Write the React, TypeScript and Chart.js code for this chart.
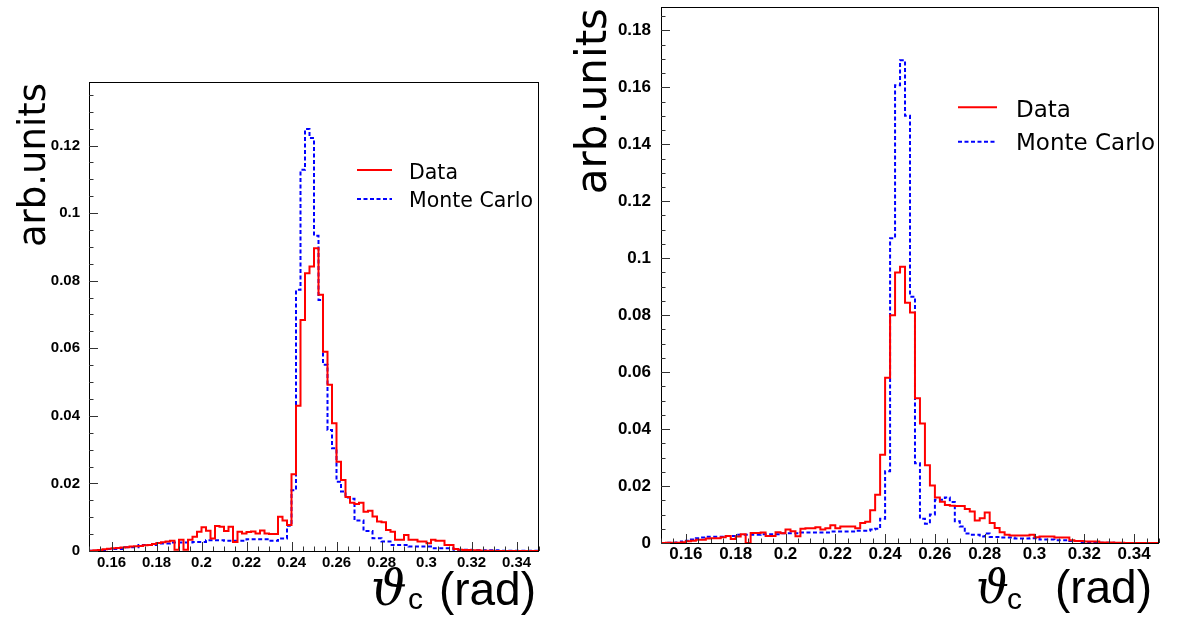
import React, { useEffect, useRef } from "react";
import { Chart, registerables } from "chart.js";

Chart.register(...registerables);

// ---------- DATA ----------
const BIN_START = 0.15;
const BIN_WIDTH = 0.002;

const LEFT_DATA = [
  0.0001, 0.0002, 0.0003, 0.0005, 0.0007, 0.0008, 0.0009, 0.001, 0.0011, 0.0013,
  0.0014, 0.0015, 0.0017, 0.0018, 0.0021, 0.0024, 0.0026, 0.0028, 0.003, 0.0004,
  0.0033, 0.0004, 0.0033, 0.0042, 0.0057, 0.007, 0.006, 0.0037, 0.0074, 0.0072,
  0.0059, 0.0072, 0.0027, 0.0057, 0.0052, 0.0056, 0.0058, 0.0052, 0.0061, 0.0052,
  0.005, 0.005, 0.0101, 0.009, 0.0077, 0.0227, 0.043, 0.0684, 0.0822, 0.0842,
  0.0896, 0.0758, 0.059, 0.0492, 0.0378, 0.0264, 0.021, 0.016, 0.0143, 0.0139,
  0.0143, 0.0116, 0.0119, 0.0102, 0.0087, 0.0085, 0.0062, 0.0057, 0.0033, 0.0033,
  0.0047, 0.0033, 0.0033, 0.0028, 0.0028, 0.0023, 0.0033, 0.003, 0.003, 0.0018,
  0.0018, 0.0006, 0.0004, 0.0003, 0.0003, 0.0002, 0.0002, 0.0001, 0.0001, 0.0001,
  0, 0, 0, 0, 0, 0, 0, 0, 0, 0,
];

const LEFT_MC = [
  0.0001, 0.0001, 0.0001, 0.0001, 0.0006, 0.0006, 0.0006, 0.0006, 0.0011, 0.0011,
  0.0011, 0.0018, 0.0018, 0.0018, 0.0018, 0.0022, 0.0022, 0.0022, 0.0025, 0.0025,
  0.0025, 0.0025, 0.0025, 0.0027, 0.0027, 0.0027, 0.0032, 0.0032, 0.0032, 0.0032,
  0.003, 0.003, 0.003, 0.003, 0.003, 0.0035, 0.0035, 0.0035, 0.0035, 0.0035,
  0.003, 0.003, 0.0037, 0.0037, 0.0075, 0.018, 0.0773, 0.1128, 0.1249, 0.1222,
  0.0933, 0.0743, 0.0551, 0.0358, 0.0304, 0.0205, 0.0176, 0.0158, 0.0155, 0.009,
  0.009, 0.0059, 0.0059, 0.0038, 0.0038, 0.0028, 0.0028, 0.0018, 0.0018, 0.0018,
  0.0018, 0.0013, 0.0013, 0.0013, 0.0013, 0.0013, 0.0008, 0.0008, 0.0008, 0.0008,
  0.0008, 0.0004, 0.0004, 0.0004, 0.0004, 0.0002, 0.0002, 0.0002, 0.0002, 0.0002,
  0.0002, 0.0001, 0.0001, 0.0001, 0.0001, 0.0001, 0.0001, 0.0001, 0.0001, 0.0001,
];

const RIGHT_DATA = [
  0.0, 0.0001, 0.0001, 0.0001, 0.0003, 0.0006, 0.0008, 0.0011, 0.0011, 0.0016,
  0.0017, 0.0017, 0.002, 0.0025, 0.0014, 0.0023, 0.0031, 0.0, 0.0035, 0.0035,
  0.0037, 0.0025, 0.0025, 0.0038, 0.0034, 0.0047, 0.0041, 0.0024, 0.005, 0.0052,
  0.0052, 0.0055, 0.0047, 0.0052, 0.0062, 0.0052, 0.0058, 0.0058, 0.0058, 0.0052,
  0.007, 0.0075, 0.0115, 0.0169, 0.031, 0.058, 0.08, 0.095, 0.097, 0.0844,
  0.0809, 0.0508, 0.042, 0.0273, 0.0202, 0.016, 0.0145, 0.0133, 0.0131, 0.013,
  0.013, 0.0119, 0.0111, 0.0079, 0.0087, 0.0107, 0.007, 0.0053, 0.0038, 0.0029,
  0.0026, 0.0026, 0.0026, 0.0026, 0.0029, 0.002, 0.0023, 0.0023, 0.0023, 0.0019,
  0.0019, 0.0019, 0.001, 0.0007, 0.0007, 0.0005, 0.0005, 0.0005, 0.0002, 0.0002,
  0.0002, 0.0001, 0.0001, 0, 0, 0, 0, 0, 0, 0,
];

const RIGHT_MC = [
  0.0, 0.0001, 0.0001, 0.0002, 0.0005, 0.0008, 0.0012, 0.0017, 0.0019, 0.0022,
  0.0022, 0.0022, 0.0022, 0.0025, 0.0025, 0.0029, 0.0029, 0.0029, 0.0029, 0.0029,
  0.0031, 0.0031, 0.0031, 0.0031, 0.0034, 0.0034, 0.0034, 0.0034, 0.0037, 0.0037,
  0.0037, 0.0037, 0.0037, 0.0037, 0.004, 0.004, 0.004, 0.004, 0.004, 0.0043,
  0.0043, 0.0043, 0.0047, 0.005, 0.0085, 0.0252, 0.107, 0.1607, 0.1695, 0.15,
  0.0865, 0.028, 0.0085, 0.0068, 0.01, 0.0152, 0.0152, 0.016, 0.0144, 0.0076,
  0.0058, 0.0033, 0.0029, 0.0029, 0.0023, 0.0033, 0.0021, 0.0021, 0.0019, 0.0019,
  0.0019, 0.0016, 0.0016, 0.0016, 0.0017, 0.0017, 0.0012, 0.0012, 0.0012, 0.001,
  0.001, 0.001, 0.0007, 0.0007, 0.0003, 0.0003, 0.0003, 0.0001, 0.0001, 0.0001,
  0.0001, 0, 0, 0, 0, 0, 0, 0, 0, 0,
];

const X_TICKS = [0.16, 0.18, 0.2, 0.22, 0.24, 0.26, 0.28, 0.3, 0.32, 0.34];
const LEFT_Y_TICKS = [0, 0.02, 0.04, 0.06, 0.08, 0.1, 0.12];
const RIGHT_Y_TICKS = [0, 0.02, 0.04, 0.06, 0.08, 0.1, 0.12, 0.14, 0.16, 0.18];
const SERIES_LABELS = ["Data", "Monte Carlo"];
const X_TITLE_MAIN = "ϑ";
const X_TITLE_SUB = "c";
const X_TITLE_UNIT = "(rad)";
const Y_TITLE = "arb.units";

// ---------- LAYOUT / STYLE ----------
const LEFT_SPEC = {
  left: 0, width: 560, height: 619,
  xMin: 0.15, xMax: 0.35, yMax: 0.1388, yTicks: LEFT_Y_TICKS,
  padTop: 82, padRight: 21, yAxisWidth: 89, xAxisHeight: 68,
  tickFont: 15, xTickPad: 3, yTickPad: 9,
  legend: { x0: 357, x1: 392, tx: 409, lineY: [170, 199], textY: [178.5, 207.3], font: 20.5 },
  yTitle: { x: 45, y: 83, size: 37 },
  xTitle: { thetaX: 371, thetaSize: 50, subX: 408, unitRight: 536, base: 605, size: 46, subSize: 30, subBase: 609 },
};

const RIGHT_SPEC = {
  left: 560, width: 618, height: 619,
  xMin: 0.15, xMax: 0.35, yMax: 0.1882, yTicks: RIGHT_Y_TICKS,
  padTop: 7, padRight: 19, yAxisWidth: 101, xAxisHeight: 76,
  tickFont: 17, xTickPad: 1, yTickPad: 10,
  legend: { x0: 398, x1: 437, tx: 456, lineY: [107.3, 141.7], textY: [116.7, 150], font: 23 },
  yTitle: { x: 46, y: 8, size: 42 },
  xTitle: { thetaX: 416, thetaSize: 46, subX: 447, unitRight: 592, base: 603, size: 46, subSize: 30, subBase: 609 },
};

const TITLE_FONT = '"Liberation Sans", "DejaVu Sans", sans-serif';
const THETA_FONT = '"DejaVu Serif", serif';
const LEGEND_FONT = '"DejaVu Sans", sans-serif';
const TICK_FONT = '"Liberation Sans Narrow", "Liberation Sans"';

function fmt(v: number) {
  return String(parseFloat(Number(v).toFixed(3)));
}

function histPoints(values: number[]) {
  const pts = values.map((v, i) => ({ x: BIN_START + i * BIN_WIDTH, y: v }));
  pts.push({ x: BIN_START + values.length * BIN_WIDTH, y: values[values.length - 1] });
  return pts;
}

function makeDecor(spec: any) {
  return {
    id: "rootDecor",
    afterDraw(chart: any) {
      const { ctx, chartArea: a } = chart;
      const xs = chart.scales.x;
      const ys = chart.scales.y;
      ctx.save();
      // frame
      const L = Math.round(a.left), T = Math.round(a.top), R = Math.round(a.right), B = Math.round(a.bottom);
      ctx.strokeStyle = "#000";
      ctx.lineWidth = 1;
      ctx.setLineDash([]);
      ctx.strokeRect(L + 0.5, T + 0.5, R - L - 1, B - T);
      // inward ticks
      ctx.strokeStyle = "#333";
      ctx.beginPath();
      for (let i = 0; i <= 40; i++) {
        const v = spec.xMin + i * 0.005;
        const px = Math.round(xs.getPixelForValue(v)) + 0.5;
        const len = i % 4 === 2 ? 9 : 4.5;
        ctx.moveTo(px, B);
        ctx.lineTo(px, B - len);
      }
      for (let i = 0; i * 0.005 <= spec.yMax; i++) {
        const py = Math.round(ys.getPixelForValue(i * 0.005)) + 0.5;
        const len = i % 4 === 0 ? 9 : 4.5;
        ctx.moveTo(L, py);
        ctx.lineTo(L + len, py);
      }
      ctx.stroke();
      // legend
      const lg = spec.legend;
      chart.data.datasets.forEach((ds: any, i: number) => {
        ctx.strokeStyle = ds.borderColor;
        ctx.lineWidth = ds.borderWidth;
        ctx.setLineDash(ds.borderDash || []);
        ctx.beginPath();
        ctx.moveTo(lg.x0, lg.lineY[i]);
        ctx.lineTo(lg.x1, lg.lineY[i]);
        ctx.stroke();
        ctx.setLineDash([]);
        ctx.fillStyle = "#000";
        ctx.font = `${lg.font}px ${LEGEND_FONT}`;
        ctx.textAlign = "left";
        ctx.textBaseline = "alphabetic";
        ctx.fillText(ds.label, lg.tx, lg.textY[i]);
      });
      // x title
      const xt = spec.xTitle;
      ctx.fillStyle = "#000";
      ctx.textBaseline = "alphabetic";
      ctx.font = `italic ${xt.thetaSize}px ${THETA_FONT}`;
      ctx.textAlign = "left";
      ctx.fillText(X_TITLE_MAIN, xt.thetaX, xt.base);
      ctx.font = `${xt.size}px ${TITLE_FONT}`;
      ctx.textAlign = "right";
      ctx.fillText(X_TITLE_UNIT, xt.unitRight, xt.base);
      ctx.font = `${xt.subSize}px ${TITLE_FONT}`;
      ctx.textAlign = "left";
      ctx.fillText(X_TITLE_SUB, xt.subX, xt.subBase);
      // y title
      const yt = spec.yTitle;
      ctx.translate(yt.x, yt.y);
      ctx.rotate(-Math.PI / 2);
      ctx.font = `${yt.size}px ${LEGEND_FONT}`;
      ctx.textAlign = "right";
      ctx.textBaseline = "alphabetic";
      ctx.fillText(Y_TITLE, 0, 0);
      ctx.restore();
    },
  };
}

function HistChart({ spec, data, mc }: { spec: any; data: number[]; mc: number[] }) {
  const ref = useRef<HTMLCanvasElement>(null);
  useEffect(() => {
    const chart = new Chart(ref.current as HTMLCanvasElement, {
      type: "line",
      data: {
        datasets: [
          {
            label: SERIES_LABELS[0],
            data: histPoints(data),
            borderColor: "#ff0000",
            borderWidth: 2,
            stepped: "before",
            pointRadius: 0,
            fill: false,
          },
          {
            label: SERIES_LABELS[1],
            data: histPoints(mc),
            borderColor: "#0000ff",
            borderWidth: 2,
            borderDash: [4, 2.5],
            stepped: "before",
            pointRadius: 0,
            fill: false,
          },
        ],
      },
      options: {
        animation: false,
        responsive: false,
        devicePixelRatio: 1,
        events: [],
        layout: { padding: { top: spec.padTop, right: spec.padRight, bottom: 0, left: 0 } },
        plugins: { legend: { display: false }, tooltip: { enabled: false }, title: { display: false } },
        scales: {
          x: {
            type: "linear",
            min: spec.xMin,
            max: spec.xMax,
            afterBuildTicks: (s: any) => {
              s.ticks = X_TICKS.map((v) => ({ value: v }));
            },
            afterFit: (s: any) => {
              s.height = spec.xAxisHeight;
              s.paddingLeft = 0;
              s.paddingRight = 0;
            },
            grid: { display: false, drawTicks: false },
            border: { display: false },
            ticks: {
              autoSkip: false,
              maxRotation: 0,
              padding: spec.xTickPad,
              color: "#000",
              font: { family: TICK_FONT, weight: "bold", size: spec.tickFont },
              callback: (v: any) => fmt(v),
            },
          },
          y: {
            type: "linear",
            min: 0,
            max: spec.yMax,
            afterBuildTicks: (s: any) => {
              s.ticks = spec.yTicks.map((v: number) => ({ value: v }));
            },
            afterFit: (s: any) => {
              s.width = spec.yAxisWidth;
              s.paddingTop = 0;
              s.paddingBottom = 0;
            },
            grid: { display: false, drawTicks: false },
            border: { display: false },
            ticks: {
              autoSkip: false,
              padding: spec.yTickPad,
              color: "#000",
              font: { family: TICK_FONT, weight: "bold", size: spec.tickFont },
              callback: (v: any) => fmt(v),
            },
          },
        },
      },
      plugins: [makeDecor(spec)],
    } as any);
    return () => chart.destroy();
  }, []);
  return (
    <canvas
      ref={ref}
      width={spec.width}
      height={spec.height}
      style={{ position: "absolute", left: spec.left, top: 0, width: spec.width, height: spec.height }}
    />
  );
}

export default function App() {
  return (
    <div style={{ position: "fixed", left: 0, top: 0, width: 1178, height: 619, background: "#fff", overflow: "hidden" }}>
      <HistChart spec={LEFT_SPEC} data={LEFT_DATA} mc={LEFT_MC} />
      <HistChart spec={RIGHT_SPEC} data={RIGHT_DATA} mc={RIGHT_MC} />
    </div>
  );
}
